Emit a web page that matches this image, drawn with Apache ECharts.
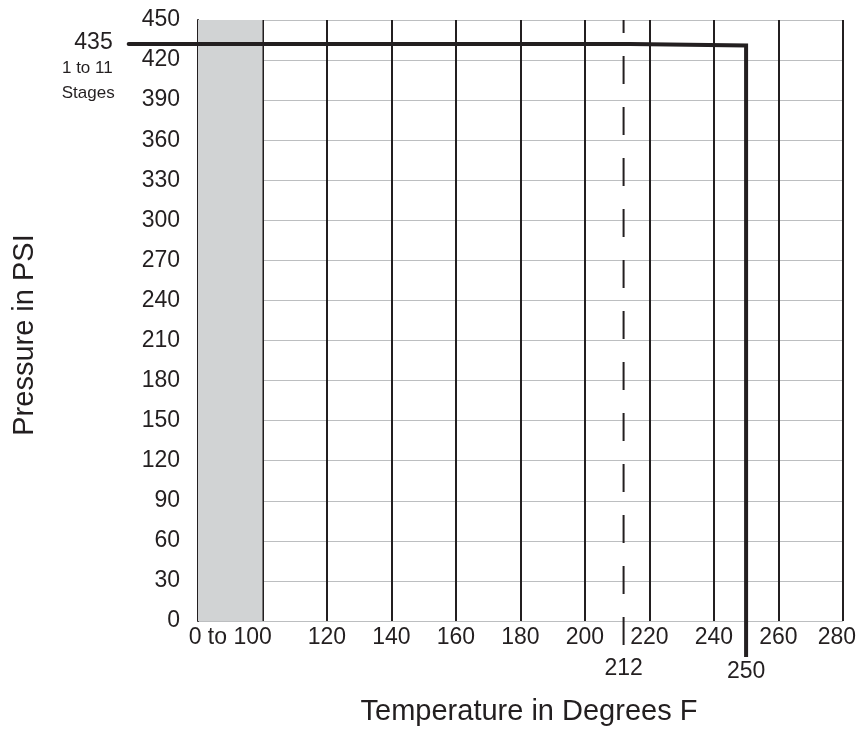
<!DOCTYPE html>
<html>
<head>
<meta charset="utf-8">
<script src="https://cdn.jsdelivr.net/npm/echarts@6/dist/echarts.min.js"></script>
<style>
  html, body { margin: 0; padding: 0; background: #fff; }
  #main { width: 859px; height: 731px; }
</style>
</head>
<body>
<div id="main"></div>
<script>
// 数据
const xLabelValues = [90, 120, 140, 160, 180, 200, 220, 240, 260, 280];
const xLabelTexts = ['0 to 100', '120', '140', '160', '180', '200', '220', '240', '260', '280'];
const ambientBand = [80, 100];          // 0 to 100 F, compressed
const stubStartTemp = 58.5;             // rating line runs past the axis to the 435 label
const ratingTemp = [80, 214, 250, 250];
const ratingPsi = [432, 432, 431, -27];
const boilTemp = [212, 212];
const boilPsi = [450, -22];
const refTemps = [212, 250];
const refPsi = [-22, -27];

const ink = '#231f20';
const font = '"Liberation Sans", Arial, Helvetica, sans-serif';

const chart = echarts.init(document.getElementById('main'));

chart.setOption({
  animation: false,
  grid: { left: 198, right: 16, top: 20, bottom: 110 },
  xAxis: {
    type: 'value',
    min: 80,
    max: 280,
    interval: 20,
    axisLine: { show: false },
    axisTick: { show: false },
    axisLabel: {
      customValues: xLabelValues,
      color: ink,
      fontFamily: font,
      fontSize: 23,
      margin: 5,
      formatter: v => {
        const t = xLabelTexts[xLabelValues.indexOf(v)];
        return v === 280 ? '{r|' + t + '}' : t;
      },
      rich: { r: { fontSize: 23, fontFamily: font, color: ink, padding: [0, 12, 0, 0] } }
    },
    splitLine: { show: true, lineStyle: { color: ink, width: 2 } }
  },
  yAxis: {
    type: 'value',
    min: 0,
    max: 450,
    interval: 30,
    axisLine: { show: true, lineStyle: { color: ink, width: 2 } },
    axisTick: { show: false },
    axisLabel: { color: ink, fontFamily: font, fontSize: 23, margin: 18 },
    splitLine: { show: true, lineStyle: { color: '#bcbec0', width: 1 } }
  },
  series: [
    {
      name: 'band',
      type: 'line',
      z: -1,
      data: [],
      markArea: {
        silent: true,
        itemStyle: { color: '#d1d3d4' },
        data: [[{ xAxis: ambientBand[0], yAxis: 450 }, { xAxis: ambientBand[1], yAxis: 0 }]]
      }
    },
    {
      name: 'boiling',
      type: 'line',
      clip: false,
      symbol: 'none',
      z: 3,
      data: boilTemp.map((t, i) => [t, boilPsi[i]]),
      lineStyle: { color: ink, width: 2, type: [28, 23], dashOffset: 15 }
    },
    {
      name: 'rating',
      type: 'line',
      clip: false,
      symbol: 'none',
      z: 4,
      data: ratingTemp.map((t, i) => [t, ratingPsi[i]]),
      lineStyle: { color: ink, width: 4, join: 'miter' }
    },
    {
      name: 'refLabels',
      type: 'scatter',
      clip: false,
      symbolSize: 0,
      itemStyle: { opacity: 1 },
      data: refTemps.map((t, i) => ({
        value: [t, refPsi[i]],
        label: { distance: i === 0 ? 7 : 3 }
      })),
      label: {
        show: true,
        position: 'bottom',
        color: ink,
        fontFamily: font,
        fontSize: 23,
        formatter: p => String(p.value[0])
      }
    }
  ]
});

// 轴外的额定线延长段：用坐标轴比例线性外推
const pA = chart.convertToPixel({ gridIndex: 0 }, [ambientBand[0], ratingPsi[0]]);
const pB = chart.convertToPixel({ gridIndex: 0 }, [ambientBand[1], ratingPsi[0]]);
const pxPerDeg = (pB[0] - pA[0]) / (ambientBand[1] - ambientBand[0]);
const stubX = pA[0] + (stubStartTemp - ambientBand[0]) * pxPerDeg;

chart.setOption({
  graphic: [
    { type: 'line', z: 10,
      shape: { x1: stubX, y1: pA[1], x2: pA[0] + 2, y2: pA[1] },
      style: { stroke: ink, lineWidth: 4, lineCap: 'round' } },
    { type: 'text', x: stubX - 16, y: 43,
      style: { text: '435', fill: ink, font: '23px ' + font, textAlign: 'right', textVerticalAlign: 'middle' } },
    { type: 'text', x: stubX - 16, y: 68,
      style: { text: '1 to 11', fill: ink, font: '17px ' + font, textAlign: 'right', textVerticalAlign: 'middle' } },
    { type: 'text', x: stubX - 14, y: 93,
      style: { text: 'Stages', fill: ink, font: '17px ' + font, textAlign: 'right', textVerticalAlign: 'middle' } },
    { type: 'text', x: 529, y: 712,
      style: { text: 'Temperature in Degrees F', fill: ink, font: '29px ' + font, textAlign: 'center', textVerticalAlign: 'middle' } },
    { type: 'text', x: 25, y: 335, rotation: Math.PI / 2,
      style: { text: 'Pressure in PSI', fill: ink, font: '29px ' + font, textAlign: 'center', textVerticalAlign: 'middle' } }
  ]
});

window.addEventListener('resize', () => chart.resize());
</script>
</body>
</html>
